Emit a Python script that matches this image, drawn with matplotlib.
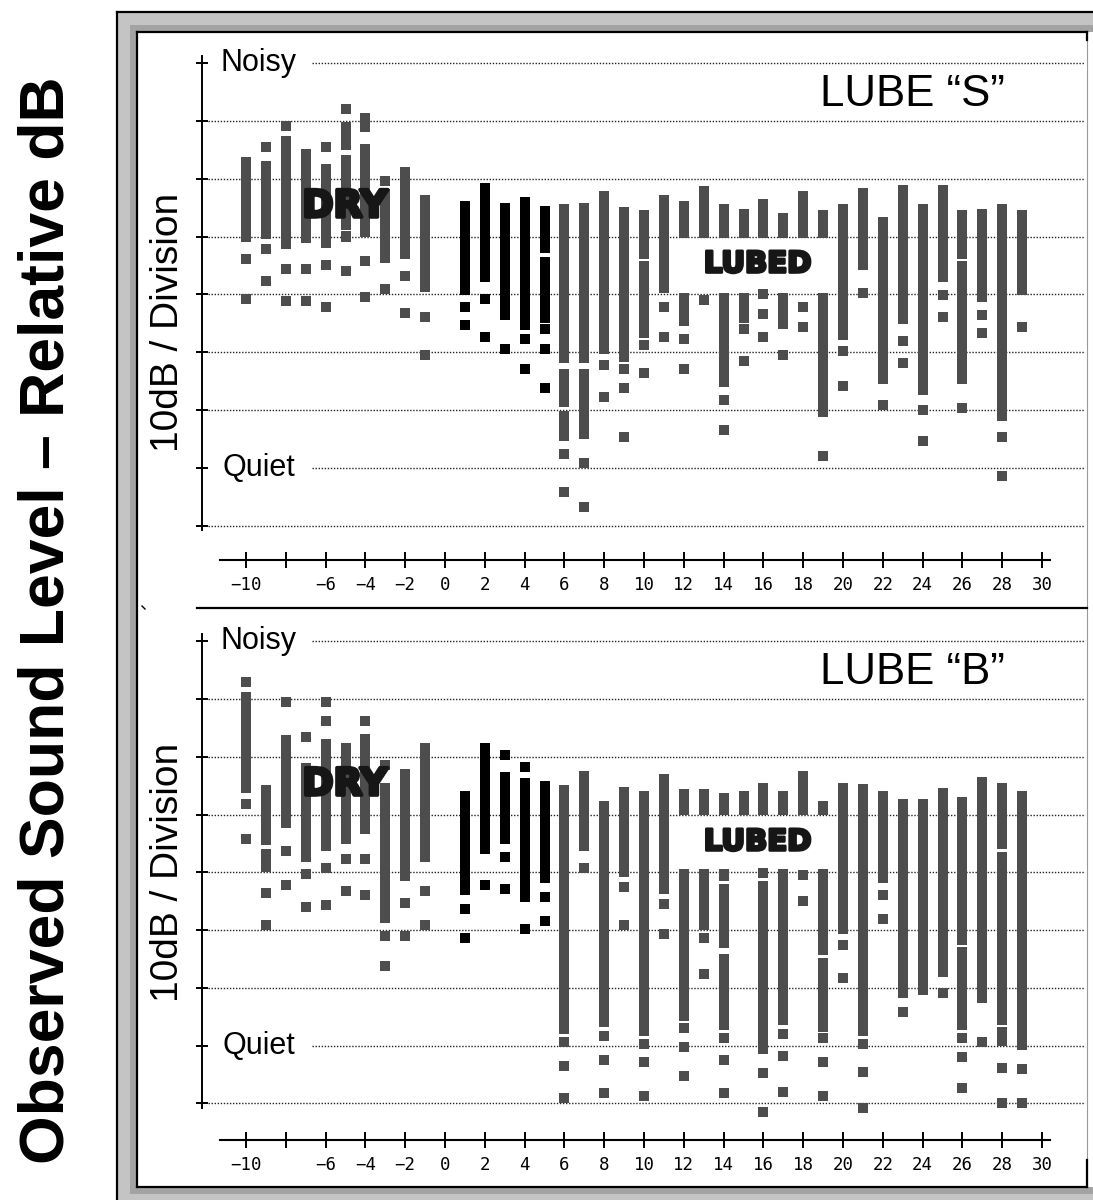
import matplotlib
matplotlib.use("Agg")  # no display

import matplotlib.pyplot as plt
import matplotlib.patheffects as pe
from matplotlib.patches import Rectangle
from matplotlib.lines import Line2D

W, H = 1093, 1200

# Column positions (test number); there is no column at 0
cols_x = list(range(-10, 0)) + list(range(1, 30))
black_x = [1, 2, 3, 4, 5]

tick_x = list(range(-10, 31, 2))
tick_labels = ["" if t == -8 else str(t).replace("-", "\u2212") for t in tick_x]

# ---- LUBE "S" : bar segments (top, bottom) and single readings, in divisions
top_bars = [
    [(6.38, 4.91)], [(6.30, 4.95)], [(6.74, 4.78)], [(6.51, 4.88)], [(6.26, 4.81)],
    [(6.98, 6.49), (6.41, 5.11)], [(7.14, 6.80), (6.59, 5.00)], [(5.82, 4.54)],
    [(6.20, 4.62)], [(5.72, 4.05)],
    [(5.62, 3.99)], [(5.93, 4.22)], [(5.58, 3.56)], [(5.69, 3.39)],
    [(5.53, 4.71), (4.65, 3.50)],
    [(5.56, 2.81), (2.72, 2.05), (1.99, 1.47)], [(5.58, 2.81), (2.72, 1.50)],
    [(5.79, 2.97)], [(5.51, 2.83)], [(5.45, 4.62), (4.58, 3.24)], [(5.72, 4.02)],
    [(5.62, 4.97), (4.03, 3.45)], [(5.87, 4.97)], [(5.56, 4.97), (4.03, 2.40)],
    [(5.47, 4.97), (4.03, 3.51)], [(5.65, 4.97)], [(5.41, 4.97), (4.03, 3.40)],
    [(5.79, 4.97)], [(5.45, 4.97), (4.03, 1.89)], [(5.56, 3.21)], [(5.83, 4.43)],
    [(5.34, 2.46)], [(5.89, 3.49)], [(5.56, 2.26)], [(5.89, 4.22)],
    [(5.45, 4.62), (4.58, 2.46)], [(5.47, 3.87)], [(5.56, 1.82)], [(5.45, 3.99)],
]
top_dots = [
    [4.61, 3.92], [6.54, 4.78, 4.23], [6.91, 4.44, 3.89], [4.44, 3.89],
    [6.54, 4.51, 3.79], [7.20, 5.00, 4.40], [4.58, 3.96], [5.96, 4.09],
    [4.31, 3.68], [3.61, 2.95],
    [3.79, 3.47], [3.92, 3.27], [3.06], [3.23, 2.71], [3.40, 3.06, 2.38],
    [1.24, 0.58], [1.09, 0.33], [2.78, 2.23], [2.71, 2.38, 1.54], [3.13, 2.65],
    [3.79, 3.27], [3.23, 2.71], [3.90], [2.18, 1.66], [3.40, 2.85],
    [4.01, 3.67, 3.27], [2.95], [3.79, 3.44], [1.21], [3.02, 2.41], [4.03],
    [2.09], [3.20, 2.82], [2.00, 1.47], [3.99, 3.61], [2.03], [3.64, 3.33],
    [1.54, 0.86], [3.43],
]

# ---- LUBE "B"
bot_bars = [
    [(7.12, 5.37)], [(5.51, 4.47), (4.40, 4.01)], [(6.38, 4.76)], [(5.89, 4.17)],
    [(6.31, 4.36)], [(6.24, 4.49)], [(6.40, 4.66)], [(5.54, 3.12)], [(5.79, 3.85)],
    [(6.24, 4.17)],
    [(5.41, 3.60)], [(6.24, 4.32)], [(5.73, 4.49)], [(5.64, 3.49)], [(5.58, 3.81)],
    [(5.51, 1.21)], [(5.76, 4.36)], [(5.24, 1.33)], [(5.48, 3.92)], [(5.41, 1.16)],
    [(5.70, 3.62)], [(5.44, 4.99), (4.05, 1.43)], [(5.44, 4.99), (4.05, 3.00)],
    [(5.37, 4.99), (4.05, 3.85), (3.79, 2.69), (2.59, 1.28)], [(5.41, 4.99)],
    [(5.55, 4.99), (3.85, 0.86)], [(5.41, 4.99), (4.05, 1.36)], [(5.76, 4.99)],
    [(5.24, 4.99), (4.05, 2.57), (2.51, 1.24)], [(5.55, 2.93)], [(5.52, 1.17)],
    [(5.41, 3.81)], [(5.27, 1.82)], [(5.27, 1.88)], [(5.45, 2.18)],
    [(5.31, 2.74), (2.70, 1.28)], [(5.65, 1.73)],
    [(5.55, 4.40), (4.35, 1.36), (1.32, 0.99)], [(5.41, 0.93)],
]
bot_dots = [
    [7.30, 5.19, 4.58], [3.65, 3.09], [6.95, 4.36, 3.78], [6.34, 3.97, 3.40],
    [6.95, 6.61, 4.07, 3.43], [4.23, 3.68], [6.62, 4.23, 3.61], [5.86, 2.90, 2.38],
    [3.47, 2.90], [3.68, 3.09],
    [3.37, 2.86], [3.78], [6.03, 4.26, 3.71], [5.82, 3.02], [3.58, 3.16],
    [1.07, 0.65, 0.10], [4.08], [1.17, 0.75, 0.18], [3.75, 3.09], [1.03, 0.72, 0.13],
    [3.45, 2.93], [1.30, 0.97, 0.48], [2.86, 2.24], [1.13, 0.75, 0.18], [],
    [3.99, 0.52, -0.14], [1.20, 0.83, 0.20], [3.95, 3.50], [1.13, 0.72, 0.13],
    [2.75, 2.17], [1.03, 0.55, -0.07], [3.61, 3.20], [1.58], [], [1.91],
    [1.13, 0.80, 0.27], [1.07], [0.62, 0.00], [0.59, 0.00],
]

GRAY = "#4d4d4d"
INK = "#161616"
SANS = "Liberation Sans"


def fx(x):
    return x / W


def fy(y):
    return 1 - y / H


def fig_line(fig, xs, ys, color="black", lw=1.5):
    fig.add_artist(Line2D([fx(x) for x in xs], [fy(y) for y in ys],
                          transform=fig.transFigure, color=color, lw=lw))


def fig_rect(fig, x0, y0, x1, y1, color):
    fig.add_artist(Rectangle((fx(x0), fy(y1)), fx(x1) - fx(x0), fy(y0) - fy(y1),
                             transform=fig.transFigure, facecolor=color,
                             edgecolor="none", zorder=0))


def draw_panel(ax, bars, dots, title, ylim, axis_y, label_y):
    ax.set_xlim(-15.48, 32.26)
    ax.set_ylim(*ylim)
    ax.axis("off")

    # dotted division lines
    for v in range(9):
        x0 = -6.68 if v in (1, 8) else -11.9
        ax.plot([x0, 32.16], [v, v], color="#222222", lw=1.0,
                linestyle=(0, (1, 1.2)), zorder=1)
    ax.plot([-12.21, -12.21], [-0.07, 8.12], color="black", lw=1.4, zorder=2)
    ax.hlines(range(9), -12.51, -11.91, color="black", lw=1.4, zorder=2)
    ax.text(-11.3, 8, "Noisy", fontsize=22, family=SANS, va="center", ha="left")
    ax.text(-11.2, 1, "Quiet", fontsize=22, family=SANS, va="center", ha="left")

    # measurements
    dot_h = 0.173
    for x, segs, pts in zip(cols_x, bars, dots):
        c = "black" if x in black_x else GRAY
        for hi, lo in segs:
            ax.bar(x, hi - lo, bottom=lo, width=0.5, color=c, linewidth=0, zorder=3)
        for p in pts:
            ax.bar(x, dot_h, bottom=p - dot_h / 2, width=0.5, color=c,
                   linewidth=0, zorder=3)

    # test number axis
    ax.plot([-11.31, 30.4], [axis_y, axis_y], color="black", lw=1.5, zorder=2)
    ax.vlines(tick_x, axis_y - 0.138, axis_y + 0.138, color="black", lw=1.4)
    for t, lab in zip(tick_x, tick_labels):
        ax.text(t, label_y, lab, fontsize=12.5, family="DejaVu Sans Mono",
                ha="center", va="center")

    ax.text(28.14, 7.46, title, fontsize=31.5, family=SANS, ha="right", va="center")
    heavy = [pe.withStroke(linewidth=2.6, foreground=INK)]
    ax.text(-5.03, 5.51, "DRY", fontsize=27, family="DejaVu Sans",
            fontweight="bold", ha="center", va="center", color=INK, zorder=5,
            path_effects=heavy)
    ax.text(15.7, 4.52, "LUBED", fontsize=21, family="DejaVu Sans",
            fontweight="bold", ha="center", va="center", color=INK, zorder=5,
            path_effects=[pe.withStroke(linewidth=2.2, foreground=INK)])


fig = plt.figure(figsize=(W / 100, H / 100), dpi=100)
fig.patch.set_facecolor("white")

# window style frame
fig_rect(fig, 117, 12, W, H, "#c4c4c4")
fig_rect(fig, 130, 25, W, 1194, "#a3a3a3")
fig_rect(fig, 137, 32, W, 1187, "white")
fig_line(fig, [117, 117], [12, H], lw=1.6)
fig_line(fig, [117, W], [12, 12], lw=1.6)
fig_line(fig, [137, 137], [32, 1187], lw=1.6)
fig_line(fig, [137, 1087], [32, 32], lw=1.6)
fig_line(fig, [137, 1087], [1187, 1187], lw=1.6)
fig_line(fig, [1087, 1087], [32, 1187], color="#9a9a9a", lw=0.8)
fig_line(fig, [1087, 1087], [32, 40], lw=1.6)
fig_line(fig, [1087, 1087], [1160, 1187], lw=1.6)
fig_line(fig, [197, 1087], [608, 608], lw=1.6)
fig_line(fig, [142, 145], [606, 609], lw=1.0)

ax_top = fig.add_axes([fx(137), fy(608), fx(1087) - fx(137), fy(32) - fy(608)])
ax_bot = fig.add_axes([fx(137), fy(1187), fx(1087) - fx(137), fy(608) - fy(1187)])
for ax in (ax_top, ax_bot):
    ax.patch.set_alpha(0)

draw_panel(ax_top, top_bars, top_dots, "LUBE \u201cS\u201d", (-1.416, 8.532), -0.587, -1.02)
draw_panel(ax_bot, bot_bars, bot_dots, "LUBE \u201cB\u201d", (-1.445, 8.573), -0.63, -1.06)

fig.text(fx(168), fy(322), "10dB / Division", rotation=90, fontsize=28, family=SANS,
         ha="center", va="center")
fig.text(fx(168), fy(872), "10dB / Division", rotation=90, fontsize=28, family=SANS,
         ha="center", va="center")
fig.text(fx(47), fy(620), "Observed Sound Level \u2013 Relative dB", rotation=90,
         fontsize=45, family=SANS, fontweight="bold", ha="center", va="center")

fig.savefig("out.png", dpi=100)
